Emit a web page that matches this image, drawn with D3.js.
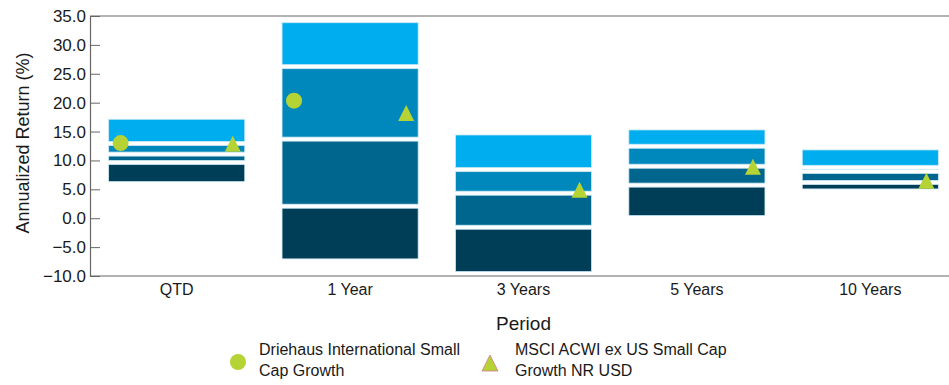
<!DOCTYPE html>
<html>
<head>
<meta charset="utf-8">
<script src="https://cdn.jsdelivr.net/npm/d3@7"></script>
<style>
  html, body { margin: 0; padding: 0; background: #fff; }
  svg { display: block; font-family: "Liberation Sans", Arial, sans-serif; }
</style>
</head>
<body>
<svg id="chart" width="949" height="385"></svg>
<script>
// ---- data ----
const categories = ["QTD", "1 Year", "3 Years", "5 Years", "10 Years"];
// percentile breakpoints (5th, 25th, 50th, 75th, 95th) per period
const p05 = [17.13, 33.84, 14.41, 15.28, 11.82];
const p25 = [12.94, 26.23, 8.41, 12.46, 8.81];
const p50 = [11.10, 13.69, 4.33, 9.00, 8.10];
const p75 = [9.65, 2.08, -1.56, 5.73, 6.19];
const p95 = [6.33, -7.04, -9.24, 0.45, 5.07];
const fundValues = [13.0, 20.35, null, null, null];
const benchValues = [12.9, 18.22, 4.93, 8.93, 6.49];
const seriesNames = ["Driehaus International Small Cap Growth", "MSCI ACWI ex US Small Cap Growth NR USD"];
const legendLines = [["Driehaus International Small", "Cap Growth"], ["MSCI ACWI ex US Small Cap", "Growth NR USD"]];
const yTicks = [35, 30, 25, 20, 15, 10, 5, 0, -5, -10];
const segColors = ["#00AEEF", "#0088BC", "#00668D", "#003D56"];

(function () {
// ---- layout ----
const svg = d3.select("#chart");
const mLeft = 90, mRight = 957, mTop = 16, mBottom = 276;
const x = d3.scaleBand().domain(categories).range([mLeft, mRight]).paddingInner(0.215).paddingOuter(0.1075);
const y = d3.scaleLinear().domain([-10, 35]).range([mBottom, mTop]);
const inner = d3.scalePoint().domain(seriesNames).range([0, x.bandwidth()]).padding(0.107);
const textColor = "#1a1a1a";
const green = "#B5D334";

// frame lines
svg.append("line").attr("x1", mLeft).attr("x2", mRight).attr("y1", mTop).attr("y2", mTop)
  .attr("stroke", "#666").attr("stroke-width", 1.2);
svg.append("line").attr("x1", mLeft).attr("x2", mRight).attr("y1", mBottom).attr("y2", mBottom)
  .attr("stroke", "#666").attr("stroke-width", 1.2);

// y axis
const yAxis = svg.append("g").attr("transform", `translate(${mLeft},0)`)
  .call(d3.axisLeft(y).tickValues(yTicks).tickFormat(d3.format(".1f")).tickSizeInner(-10).tickSizeOuter(0).tickPadding(4));
yAxis.select(".domain").attr("stroke", "#666").attr("stroke-width", 1.2);
yAxis.selectAll(".tick line").attr("stroke", "#666");
yAxis.selectAll(".tick text").attr("fill", textColor).attr("font-size", 17)
  .attr("x", -4).attr("text-anchor", "end");

// x axis labels
const xAxis = svg.append("g").attr("transform", `translate(0,${mBottom})`)
  .call(d3.axisBottom(x).tickSize(0).tickPadding(8));
xAxis.select(".domain").remove();
xAxis.selectAll(".tick text").attr("fill", textColor).attr("font-size", 16);

// floating bars
const breaks = categories.map((c, i) => [p05[i], p25[i], p50[i], p75[i], p95[i]]);
const gap = 2;
categories.forEach((c, i) => {
  const b = breaks[i];
  for (let s = 0; s < 4; s++) {
    const y0 = y(b[s]) + (s > 0 ? gap : 0);
    const y1 = y(b[s + 1]) - (s < 3 ? gap : 0);
    if (y1 - y0 <= 0) continue;
    svg.append("rect")
      .attr("x", x(c)).attr("width", x.bandwidth())
      .attr("y", y0).attr("height", y1 - y0)
      .attr("fill", segColors[s])
      .attr("stroke", "#cfe9f5").attr("stroke-width", 0.8);
  }
});

// markers
const triPath = "M0,-8L8,8L-8,8Z";
categories.forEach((c, i) => {
  if (fundValues[i] != null) {
    svg.append("circle")
      .attr("cx", x(c) + inner(seriesNames[0])).attr("cy", y(fundValues[i]))
      .attr("r", 8).attr("fill", green);
  }
  if (benchValues[i] != null) {
    svg.append("path").attr("d", triPath)
      .attr("transform", `translate(${x(c) + inner(seriesNames[1])},${y(benchValues[i])})`)
      .attr("fill", green);
  }
});

// axis titles
svg.append("text").attr("transform", "translate(29,143) rotate(-90)")
  .attr("text-anchor", "middle").attr("font-size", 18).attr("fill", textColor)
  .text("Annualized Return (%)");
svg.append("text").attr("x", (mLeft + mRight) / 2).attr("y", 330)
  .attr("text-anchor", "middle").attr("font-size", 19).attr("fill", textColor)
  .text("Period");

// legend
const lg = svg.append("g");
lg.append("circle").attr("cx", 238).attr("cy", 362).attr("r", 8).attr("fill", green);
const t1 = lg.append("text").attr("x", 259).attr("y", 355).attr("font-size", 16).attr("fill", textColor);
legendLines[0].forEach((l, k) => t1.append("tspan").attr("x", 259).attr("dy", k ? 21 : 0).text(l));
lg.append("path").attr("d", triPath).attr("transform", "translate(490,363)")
  .attr("fill", green).attr("stroke", "#d07a90").attr("stroke-width", 0.8);
const t2 = lg.append("text").attr("x", 515).attr("y", 355).attr("font-size", 16).attr("fill", textColor);
legendLines[1].forEach((l, k) => t2.append("tspan").attr("x", 515).attr("dy", k ? 21 : 0).text(l));
})();
</script>
</body>
</html>
